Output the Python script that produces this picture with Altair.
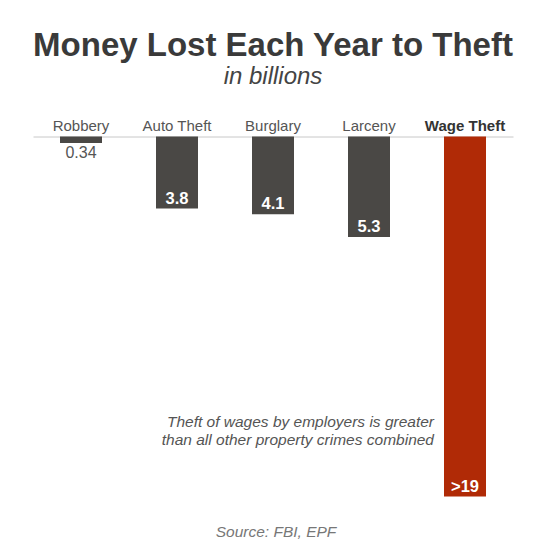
import altair as alt
import pandas as pd

# data (billions of dollars per year)
crimes = ["Robbery", "Auto Theft", "Burglary", "Larceny", "Wage Theft"]
losses = [0.34, 3.8, 4.1, 5.3, 19]
loss_labels = ["0.34", "3.8", "4.1", "5.3", ">19"]
note_lines = ["Theft of wages by employers is greater",
              "than all other property crimes combined"]
source_text = "Source: FBI, EPF"

FONT = "Liberation Sans, Arial, Helvetica, sans-serif"
DARK = "#4a4845"
RED = "#b02a06"

df = pd.DataFrame({"crime": crimes, "loss": losses, "label": loss_labels})

x = alt.X("crime:N", sort=crimes,
          scale=alt.Scale(paddingInner=0.5625, paddingOuter=0.28125),
          axis=alt.Axis(orient="top", title=None, ticks=False, labelAngle=0,
                        domainColor="#c8c8c8", domainWidth=1,
                        labelFont=FONT, labelFontSize=15, labelPadding=3,
                        labelColor=alt.expr("datum.value == 'Wage Theft' ? '#333333' : '#555555'"),
                        labelFontWeight=alt.expr("datum.value == 'Wage Theft' ? 'bold' : 'normal'")))
y = alt.Y("loss:Q", scale=alt.Scale(domain=[0, 19], reverse=True), axis=None)

base = alt.Chart(df).encode(x=x, y=y)

bars = base.mark_bar().encode(
    color=alt.Color("crime:N", sort=crimes,
                    scale=alt.Scale(domain=crimes, range=[DARK, DARK, DARK, DARK, RED]),
                    legend=None)
)

# labels inside the bars, at the bottom end
inside = base.transform_filter("datum.loss > 1").mark_text(
    baseline="alphabetic", dy=-5, font=FONT, fontSize=16.5, fontWeight="bold", color="white"
).encode(text="label:N")

# robbery is too small, label goes under it
outside = base.transform_filter("datum.loss <= 1").mark_text(
    baseline="alphabetic", dy=15, font=FONT, fontSize=16, color="#555555"
).encode(text="label:N")

note = alt.Chart(pd.DataFrame({"crime": ["Wage Theft"]})).mark_text(
    align="right", baseline="alphabetic", dx=-31, lineHeight=18,
    font=FONT, fontSize=15.5, fontStyle="italic", color="#555555"
).encode(x=alt.X("crime:N", sort=crimes), y=alt.value(290.5), text=alt.value(note_lines))

source = alt.Chart(pd.DataFrame({"t": [source_text]})).mark_text(
    align="center", baseline="alphabetic",
    font=FONT, fontSize=15.5, fontStyle="italic", color="#777777"
).encode(x=alt.value(243), y=alt.value(400.5), text="t:N")

chart = (bars + inside + outside + note + source).properties(
    width=480, height=360,
    autosize=alt.AutoSizeParams(type="none"),
    padding={"left": 25, "top": 128.5, "right": 20, "bottom": 45},
    background="white",
    title=alt.TitleParams(
        text="Money Lost Each Year to Theft",
        subtitle="in billions",
        anchor="middle", offset=30,
        font=FONT, fontSize=33, fontWeight="bold", color="#3a3a3a",
        subtitleFont=FONT, subtitleFontSize=24, subtitleFontStyle="italic",
        subtitleColor="#444444", subtitlePadding=2,
    ),
).configure_view(stroke=None)

chart.save("out.html", embed_options={"renderer": "svg", "actions": False})
